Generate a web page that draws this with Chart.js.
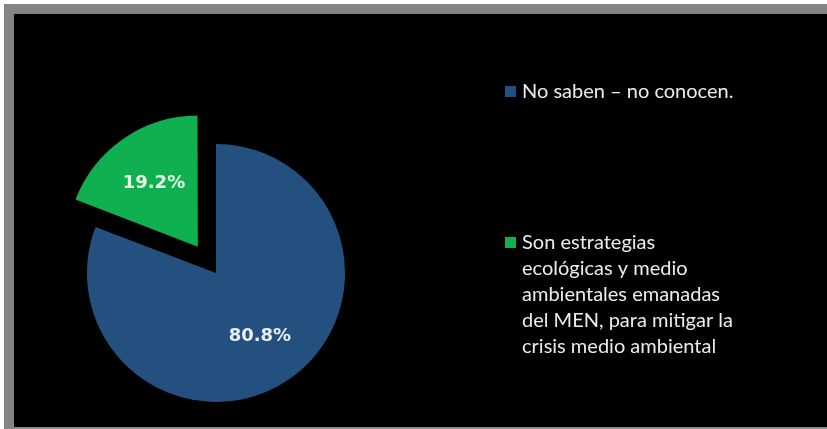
<!DOCTYPE html>
<html>
<head>
<meta charset="utf-8">
<script src="https://cdn.jsdelivr.net/npm/chart.js@4/dist/chart.umd.min.js"></script>
<style>
    body { margin: 0; background: #fff; }
    #frame {
        position: absolute; left: 4px; top: 4px; width: 823px; height: 425px;
        box-sizing: border-box; background: #000;
        border-left: 10px solid #848484; border-top: 10px solid #848484; border-bottom: 2px solid #8c8c8c;
    }
    #chart { position: absolute; left: 0; top: 0; }
</style>
</head>
<body>
<div id="frame"></div>
<canvas id="chart" width="827" height="429"></canvas>
<script>
// Chart data
const categories = [
    ['No saben – no conocen.'],
    ['Son estrategias', 'ecológicas y medio', 'ambientales emanadas', 'del MEN, para mitigar la', 'crisis medio ambiental']
];
const percentages = [80.8, 19.2];
const sliceColors = ['#24507f', '#0fb04f'];
const labelColors = ['#e9eef4', '#e6f5e6'];

// Percent labels inside the slices (arc offset is drawn at a quarter of its value)
const sliceLabels = {
    id: 'sliceLabels',
    afterDatasetsDraw(chart) {
        const ctx = chart.ctx;
        const meta = chart.getDatasetMeta(0);
        ctx.save();
        ctx.font = 'bold 18px "DejaVu Sans"';
        ctx.textAlign = 'center';
        ctx.textBaseline = 'middle';
        meta.data.forEach((arc, i) => {
            const p = arc.getProps(['x', 'y', 'startAngle', 'endAngle', 'outerRadius']);
            const mid = (p.startAngle + p.endAngle) / 2;
            const off = (arc.options.offset || 0) / 4;
            const r = off + p.outerRadius * 0.6;
            ctx.fillStyle = labelColors[i];
            ctx.fillText(percentages[i].toFixed(1) + '%', p.x + Math.cos(mid) * r, p.y + Math.sin(mid) * r);
        });
        ctx.restore();
    }
};

// Legend on the right, with wrapped lines
const sideLegend = {
    id: 'sideLegend',
    afterDraw(chart) {
        const ctx = chart.ctx;
        const tops = [92, 243];
        ctx.save();
        ctx.font = '20px Lato';
        ctx.textBaseline = 'middle';
        chart.data.labels.forEach((lines, i) => {
            ctx.fillStyle = sliceColors[i];
            ctx.fillRect(505, tops[i] - 6, 11, 11);
            ctx.fillStyle = '#ececec';
            lines.forEach((line, j) => {
                ctx.fillText(line, 522, tops[i] + j * 26);
            });
        });
        ctx.restore();
    }
};

new Chart(document.getElementById('chart'), {
    type: 'pie',
    data: {
        labels: categories,
        datasets: [{
            data: percentages,
            backgroundColor: sliceColors,
            borderWidth: 0,
            offset: [0, 128],
            hoverOffset: 0
        }]
    },
    options: {
        responsive: false,
        animation: false,
        radius: 129,
        layout: { padding: { left: 72, right: 467, top: 129, bottom: 12 } },
        plugins: {
            legend: { display: false },
            tooltip: { enabled: false }
        }
    },
    plugins: [sliceLabels, sideLegend]
});
</script>
</body>
</html>
